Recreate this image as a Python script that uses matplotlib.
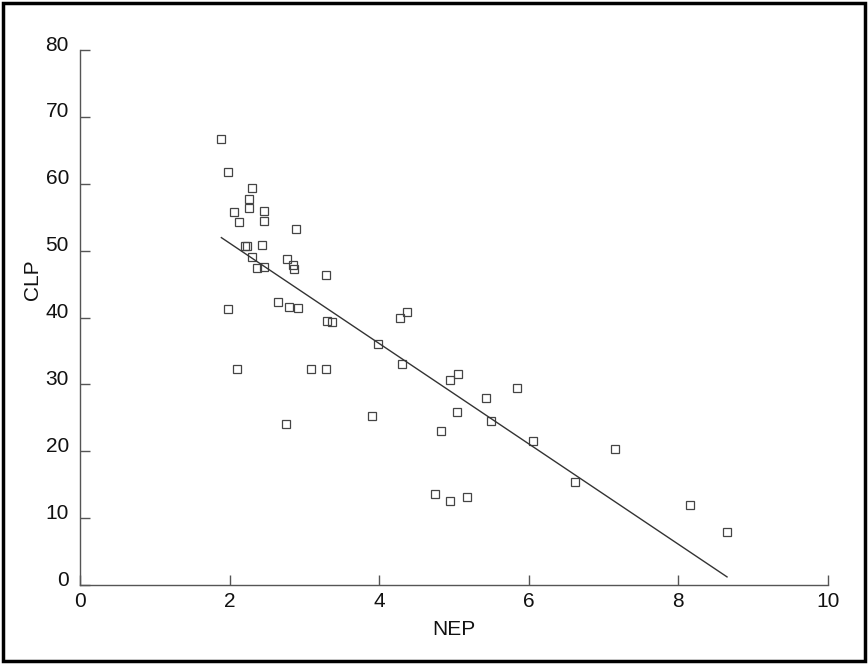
import numpy as np
import matplotlib
matplotlib.use("Agg")
from matplotlib import pyplot as plt
from matplotlib import transforms

plt.rcParams['font.family'] = ['Liberation Sans', 'DejaVu Sans']

# NEP / CLP pairs
nep = [1.89, 1.98, 2.30, 2.26, 2.26, 2.06, 2.46, 2.13, 2.46, 2.89,
       2.21, 2.23, 2.43, 2.30, 2.77, 2.37, 2.46, 2.85, 2.86, 3.29,
       2.65, 2.79, 2.91, 1.98, 3.30, 3.37, 4.28, 4.37, 3.99, 4.30,
       2.10, 3.09, 3.29, 5.06, 4.94, 5.84, 5.43, 5.04, 3.91, 5.50,
       2.75, 4.82, 6.05, 7.15, 6.62, 4.74, 5.18, 4.95, 8.16, 8.65]
clp = [66.7, 61.8, 59.4, 57.7, 56.4, 55.8, 55.9, 54.3, 54.4, 53.2,
       50.7, 50.7, 50.8, 49.0, 48.7, 47.4, 47.6, 47.9, 47.3, 46.4,
       42.3, 41.6, 41.4, 41.3, 39.5, 39.3, 40.0, 40.8, 36.1, 33.0,
       32.3, 32.3, 32.3, 31.6, 30.7, 29.4, 27.9, 25.8, 25.3, 24.5,
       24.1, 23.1, 21.5, 20.3, 15.4, 13.6, 13.1, 12.5, 12.0, 7.9]

xticks = [0, 2, 4, 6, 8, 10]
yticks = [0, 10, 20, 30, 40, 50, 60, 70, 80]

fig = plt.figure(figsize=(8.68, 6.64), dpi=100)
ax = fig.add_axes([80 / 868, 1 - 585 / 664, 748 / 868, 535 / 664])

ax.plot(nep, clp, linestyle='none', marker='s', markersize=5.8,
        markerfacecolor='none', markeredgecolor='#444444', markeredgewidth=0.9)

# least squares line over the data range
k, b = np.polyfit(nep, clp, 1)
xs = np.array([min(nep), max(nep)])
ax.plot(xs, k * xs + b, color='#333333', linewidth=1.0)

ax.set_xlim(0, 10)
ax.set_ylim(0, 80)
ax.set_xticks(xticks)
ax.set_yticks(yticks)
for s in ['top', 'right']:
    ax.spines[s].set_visible(False)
for s in ['left', 'bottom']:
    ax.spines[s].set_color('#555555')
    ax.spines[s].set_linewidth(1.0)
ax.tick_params(direction='in', length=7.5, width=1.0, color='#555555',
               labelsize=15, labelcolor='#111111')
ax.tick_params(axis='x', pad=5)
ax.tick_params(axis='y', pad=8)
ax.set_xlabel('NEP', fontsize=15, color='#111111', va='center')
ax.set_ylabel('CLP', fontsize=15, color='#111111', va='center')
ax.xaxis.set_label_coords(0.5, -0.084)
ax.yaxis.set_label_coords(-0.063, 0.57)

# y labels sit a little above their ticks in the original
off = transforms.ScaledTranslation(0, 5 / 72, fig.dpi_scale_trans)
for lab in ax.get_yticklabels():
    lab.set_transform(lab.get_transform() + off)

# frame round the whole picture
fig.patches.append(plt.Rectangle((0.003, 0.004), 0.994, 0.992, transform=fig.transFigure,
                                 fill=False, edgecolor='black', linewidth=2.5))

fig.savefig('out.png', dpi=100)
